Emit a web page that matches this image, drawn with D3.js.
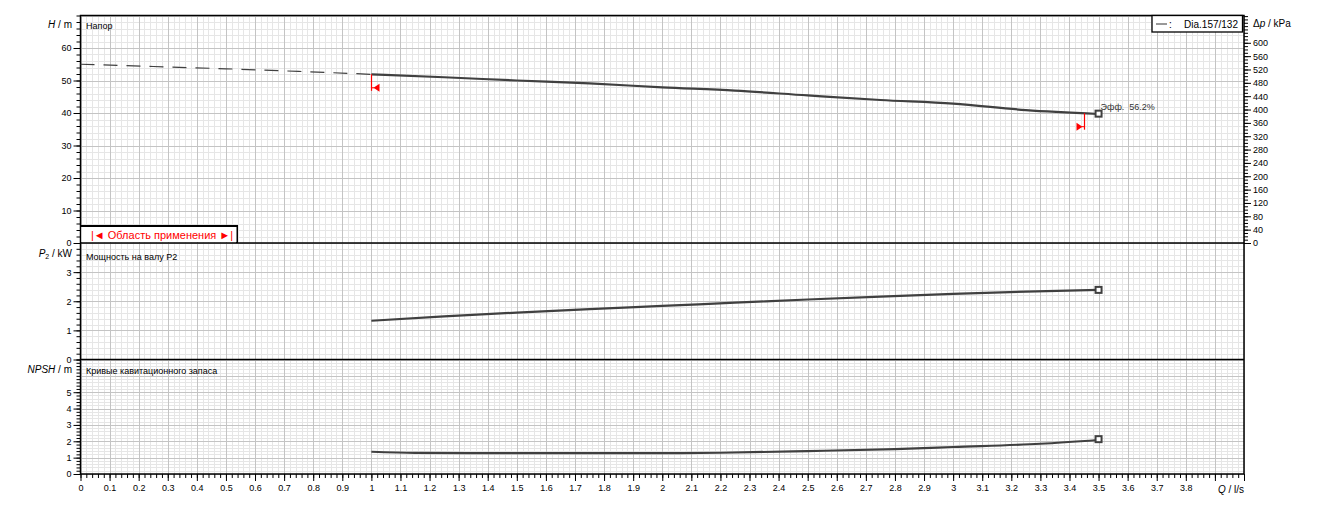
<!DOCTYPE html>
<html><head><meta charset="utf-8">
<script src="https://cdn.jsdelivr.net/npm/d3@7"></script>
<style>
body{margin:0;background:#fff;}
svg{display:block;font-family:"Liberation Sans",Arial,sans-serif;}
</style></head>
<body><svg id="c" width="1323" height="508"></svg>
<script>
// ---- data ----
const qDash = [0, 0.25, 0.5, 0.75, 1.0];
const hDash = [55.0, 54.3, 53.6, 52.8, 51.9];
const qHead = [1.0, 1.25, 1.5, 1.75, 2.0, 2.25, 2.5, 2.75, 3.0, 3.25, 3.5];
const hHead = [51.9, 51.0, 50.0, 49.1, 47.9, 46.9, 45.4, 44.0, 42.9, 40.9, 39.7];
const qPow = [1.0, 1.25, 1.5, 1.75, 2.0, 2.25, 2.5, 2.75, 3.0, 3.25, 3.5];
const pPow = [1.33, 1.48, 1.61, 1.73, 1.84, 1.95, 2.06, 2.16, 2.25, 2.33, 2.39];
const qNpsh = [1.0, 1.15, 1.5, 2.0, 2.2, 2.5, 2.8, 3.0, 3.3, 3.5];
const nNpsh = [1.36, 1.29, 1.28, 1.28, 1.30, 1.40, 1.52, 1.65, 1.85, 2.08];
const xTicks = d3.range(0, 39).map(i => +(i / 10).toFixed(1));
const hTicks = [0, 10, 20, 30, 40, 50, 60];
const dpTicks = d3.range(0, 601, 40);
const pTicks = [0, 1, 2, 3];
const nTicks = [0, 1, 2, 3, 4, 5];
const kPaPerM = 9.74;
const opRange = [1.0, 3.45];
const bepQ = 3.5, bepText = "Эфф.  56.2%";
const legendText = "Dia.157/132";

// ---- layout ----
const X0 = 80.5, X1 = 1244;
const top1 = 15.5, bot1 = 243, bot2 = 359.5, bot3 = 474;
const svg = d3.select("#c");
const x = d3.scaleLinear().domain([0, 4]).range([X0, X1]);
const yH = d3.scaleLinear().domain([0, 70]).range([bot1, top1]);
const yDp = d3.scaleLinear().domain([0, 70 * kPaPerM]).range([bot1, top1]);
const yP = d3.scaleLinear().domain([0, 4]).range([bot2, bot1]);
const yN = d3.scaleLinear().domain([0, 7]).range([bot3, bot2]);

const MINOR = "#e6e6e6", MAJOR = "#c4c4c4", CURVE = "#404040";
const panels = [
  {y: yH, top: top1, bot: bot1, minor: 2, major: 10, max: 70},
  {y: yP, top: bot1, bot: bot2, minor: 0.2, major: 1, max: 4},
  {y: yN, top: bot2, bot: bot3, minor: 0.2, major: 1, max: 7}
];
const g = svg.append("g");
// grid
panels.forEach(p => {
  const minorY = d3.range(0, p.max + 1e-9, p.minor);
  const majorY = d3.range(0, p.max + 1e-9, p.major);
  g.selectAll(null).data(d3.range(0, 4.0001, 0.02)).enter().append("line")
    .attr("x1", d => Math.round(x(d)) + 0.5).attr("x2", d => Math.round(x(d)) + 0.5)
    .attr("y1", p.top).attr("y2", p.bot).attr("stroke", MINOR);
  g.selectAll(null).data(minorY).enter().append("line")
    .attr("x1", X0).attr("x2", X1)
    .attr("y1", d => Math.round(p.y(d)) + 0.5).attr("y2", d => Math.round(p.y(d)) + 0.5).attr("stroke", MINOR);
  g.selectAll(null).data(d3.range(0, 4.0001, 0.1)).enter().append("line")
    .attr("x1", d => Math.round(x(d)) + 0.5).attr("x2", d => Math.round(x(d)) + 0.5)
    .attr("y1", p.top).attr("y2", p.bot).attr("stroke", MAJOR);
  g.selectAll(null).data(majorY).enter().append("line")
    .attr("x1", X0).attr("x2", X1)
    .attr("y1", d => Math.round(p.y(d)) + 0.5).attr("y2", d => Math.round(p.y(d)) + 0.5).attr("stroke", MAJOR);
});

// axes
function styleAxis(sel) {
  sel.select(".domain").remove();
  sel.selectAll("line").attr("stroke", "#000");
  sel.selectAll("text").attr("font-size", 9).attr("fill", "#000")
     .attr("font-family", '"Liberation Sans",Arial,sans-serif');
}
function leftAxis(scale, major, minorStep, max) {
  const mn = svg.append("g").attr("transform", `translate(${X0},0)`)
    .call(d3.axisLeft(scale).tickValues(d3.range(0, max + 1e-9, minorStep)).tickSize(4).tickFormat(""));
  styleAxis(mn);
  const mj = svg.append("g").attr("transform", `translate(${X0},0)`)
    .call(d3.axisLeft(scale).tickValues(major).tickSize(7).tickPadding(2).tickFormat(d => String(d)));
  styleAxis(mj);
}
leftAxis(yH, hTicks, 2, 70);
leftAxis(yP, pTicks, 0.2, 4);
leftAxis(yN, nTicks, 0.2, 7);
// right axis
{
  const mn = svg.append("g").attr("transform", `translate(${X1},0)`)
    .call(d3.axisRight(yDp).tickValues(d3.range(0, 681, 10)).tickSize(4).tickFormat(""));
  styleAxis(mn);
  const mj = svg.append("g").attr("transform", `translate(${X1},0)`)
    .call(d3.axisRight(yDp).tickValues(dpTicks).tickSize(7).tickPadding(2).tickFormat(d => String(d)));
  styleAxis(mj);
}
// bottom axis
{
  const mn = svg.append("g").attr("transform", `translate(0,${bot3})`)
    .call(d3.axisBottom(x).tickValues(d3.range(0, 4.0001, 0.02)).tickSize(4).tickFormat(""));
  styleAxis(mn);
  const mj = svg.append("g").attr("transform", `translate(0,${bot3})`)
    .call(d3.axisBottom(x).tickValues(d3.range(0, 4.0001, 0.1)).tickSize(7).tickFormat(""));
  styleAxis(mj);
  const lb = svg.append("g").attr("transform", `translate(0,${bot3})`)
    .call(d3.axisBottom(x).tickValues(xTicks).tickSize(0).tickPadding(11).tickFormat(d => String(d)));
  styleAxis(lb);
}

// frame
svg.append("rect").attr("x", X0).attr("y", top1).attr("width", X1 - X0).attr("height", bot3 - top1)
  .attr("fill", "none").attr("stroke", "#000").attr("stroke-width", 1.5);
[bot1, bot2].forEach(yy => svg.append("line").attr("x1", X0).attr("x2", X1).attr("y1", yy).attr("y2", yy)
  .attr("stroke", "#000").attr("stroke-width", 1.5));

// axis titles
function title(xp, yp, parts, anchor) {
  const t = svg.append("text").attr("x", xp).attr("y", yp).attr("font-size", 10).attr("text-anchor", anchor || "end");
  parts.forEach(p => {
    const ts = t.append("tspan").text(p.t);
    if (p.i) ts.attr("font-style", "italic");
    if (p.sub) ts.attr("font-size", 7).attr("dy", 2);
    if (p.up) ts.attr("dy", -2);
  });
}
title(72, 27.5, [{t: "H", i: 1}, {t: " / m"}]);
title(72, 257, [{t: "P", i: 1}, {t: "2", sub: 1}, {t: " / kW", up: 1}]);
title(72, 373, [{t: "NPSH", i: 1}, {t: " / m"}]);
title(1253, 27, [{t: "Δ"}, {t: "p", i: 1}, {t: " / kPa"}], "start");
title(1244, 493, [{t: "Q", i: 1}, {t: " / l/s"}]);

// panel captions
[["Напор", 29], ["Мощность на валу P2", 259.5], ["Кривые кавитационного запаса", 374]].forEach(([t, yy]) =>
  svg.append("text").attr("x", 86).attr("y", yy).attr("font-size", 9).text(t));

// curves
const line = (xs, ys, yS) => d3.line().curve(d3.curveMonotoneX).x((d, i) => x(xs[i])).y((d, i) => yS(ys[i]))(xs);
svg.append("path").attr("d", line(qDash, hDash, yH)).attr("fill", "none").attr("stroke", CURVE)
  .attr("stroke-width", 1.2).attr("stroke-dasharray", "14 9");
svg.append("path").attr("d", line(qHead, hHead, yH)).attr("fill", "none").attr("stroke", CURVE).attr("stroke-width", 2.2);
svg.append("path").attr("d", line(qPow, pPow, yP)).attr("fill", "none").attr("stroke", CURVE).attr("stroke-width", 2.2);
svg.append("path").attr("d", line(qNpsh, nNpsh, yN)).attr("fill", "none").attr("stroke", CURVE).attr("stroke-width", 2.2);

// end markers
[[hHead[hHead.length - 1] + 0.1, yH], [pPow[pPow.length - 1], yP], [nNpsh[nNpsh.length - 1] + 0.05, yN]].forEach(([v, yS]) =>
  svg.append("rect").attr("x", x(bepQ) - 3).attr("y", yS(v) - 3).attr("width", 6).attr("height", 6)
    .attr("fill", "#fff").attr("stroke", CURVE).attr("stroke-width", 2));
svg.append("text").attr("x", x(bepQ) + 2).attr("y", yH(hHead[hHead.length - 1]) - 4).attr("font-size", 9)
  .attr("fill", "#333").attr("xml:space", "preserve").text(bepText);

// operating range markers
function hAt(q) {
  for (let i = 0; i < qHead.length - 1; i++) if (q >= qHead[i] && q <= qHead[i + 1])
    return hHead[i] + (hHead[i + 1] - hHead[i]) * (q - qHead[i]) / (qHead[i + 1] - qHead[i]);
  return hHead[hHead.length - 1];
}
opRange.forEach((q, k) => {
  const xx = Math.round(x(q)) + 0.5, y0 = yH(hAt(q)), y1 = y0 + 16.5, ym = y1 - 3;
  svg.append("line").attr("x1", xx).attr("x2", xx).attr("y1", y0).attr("y2", y1).attr("stroke", "red").attr("stroke-width", 1.2);
  if (k === 0) {
    svg.append("line").attr("x1", xx).attr("x2", xx + 3).attr("y1", ym).attr("y2", ym).attr("stroke", "red");
    svg.append("path").attr("d", `M${xx + 2},${ym} L${xx + 8},${ym - 4} L${xx + 8},${ym + 4} Z`).attr("fill", "red");
  } else {
    svg.append("line").attr("x1", xx - 3).attr("x2", xx).attr("y1", ym).attr("y2", ym).attr("stroke", "red");
    svg.append("path").attr("d", `M${xx - 2},${ym} L${xx - 8},${ym - 4} L${xx - 8},${ym + 4} Z`).attr("fill", "red");
  }
});

// legend
svg.append("rect").attr("x", 1152).attr("y", 15.5).attr("width", 90.5).attr("height", 16.5)
  .attr("fill", "#fff").attr("stroke", "#000").attr("stroke-width", 1.3);
svg.append("line").attr("x1", 1156).attr("x2", 1167).attr("y1", 24).attr("y2", 24).attr("stroke", "#333");
svg.append("text").attr("x", 1169).attr("y", 28).attr("font-size", 10).text(":");
svg.append("text").attr("x", 1238).attr("y", 28).attr("font-size", 10).attr("text-anchor", "end").text(legendText);

// application range box
svg.append("path").attr("d", `M${X0},226 H237 V${bot1}`).attr("fill", "none").attr("stroke", "#000").attr("stroke-width", 2);
svg.append("rect").attr("x", X0 + 1).attr("y", 227).attr("width", 155).attr("height", 15).attr("fill", "#fff");
svg.append("text").attr("x", 162).attr("y", 239).attr("font-size", 11).attr("fill", "red").attr("text-anchor", "middle")
  .text("|◄ Область применения ►|");
</script></body></html>
